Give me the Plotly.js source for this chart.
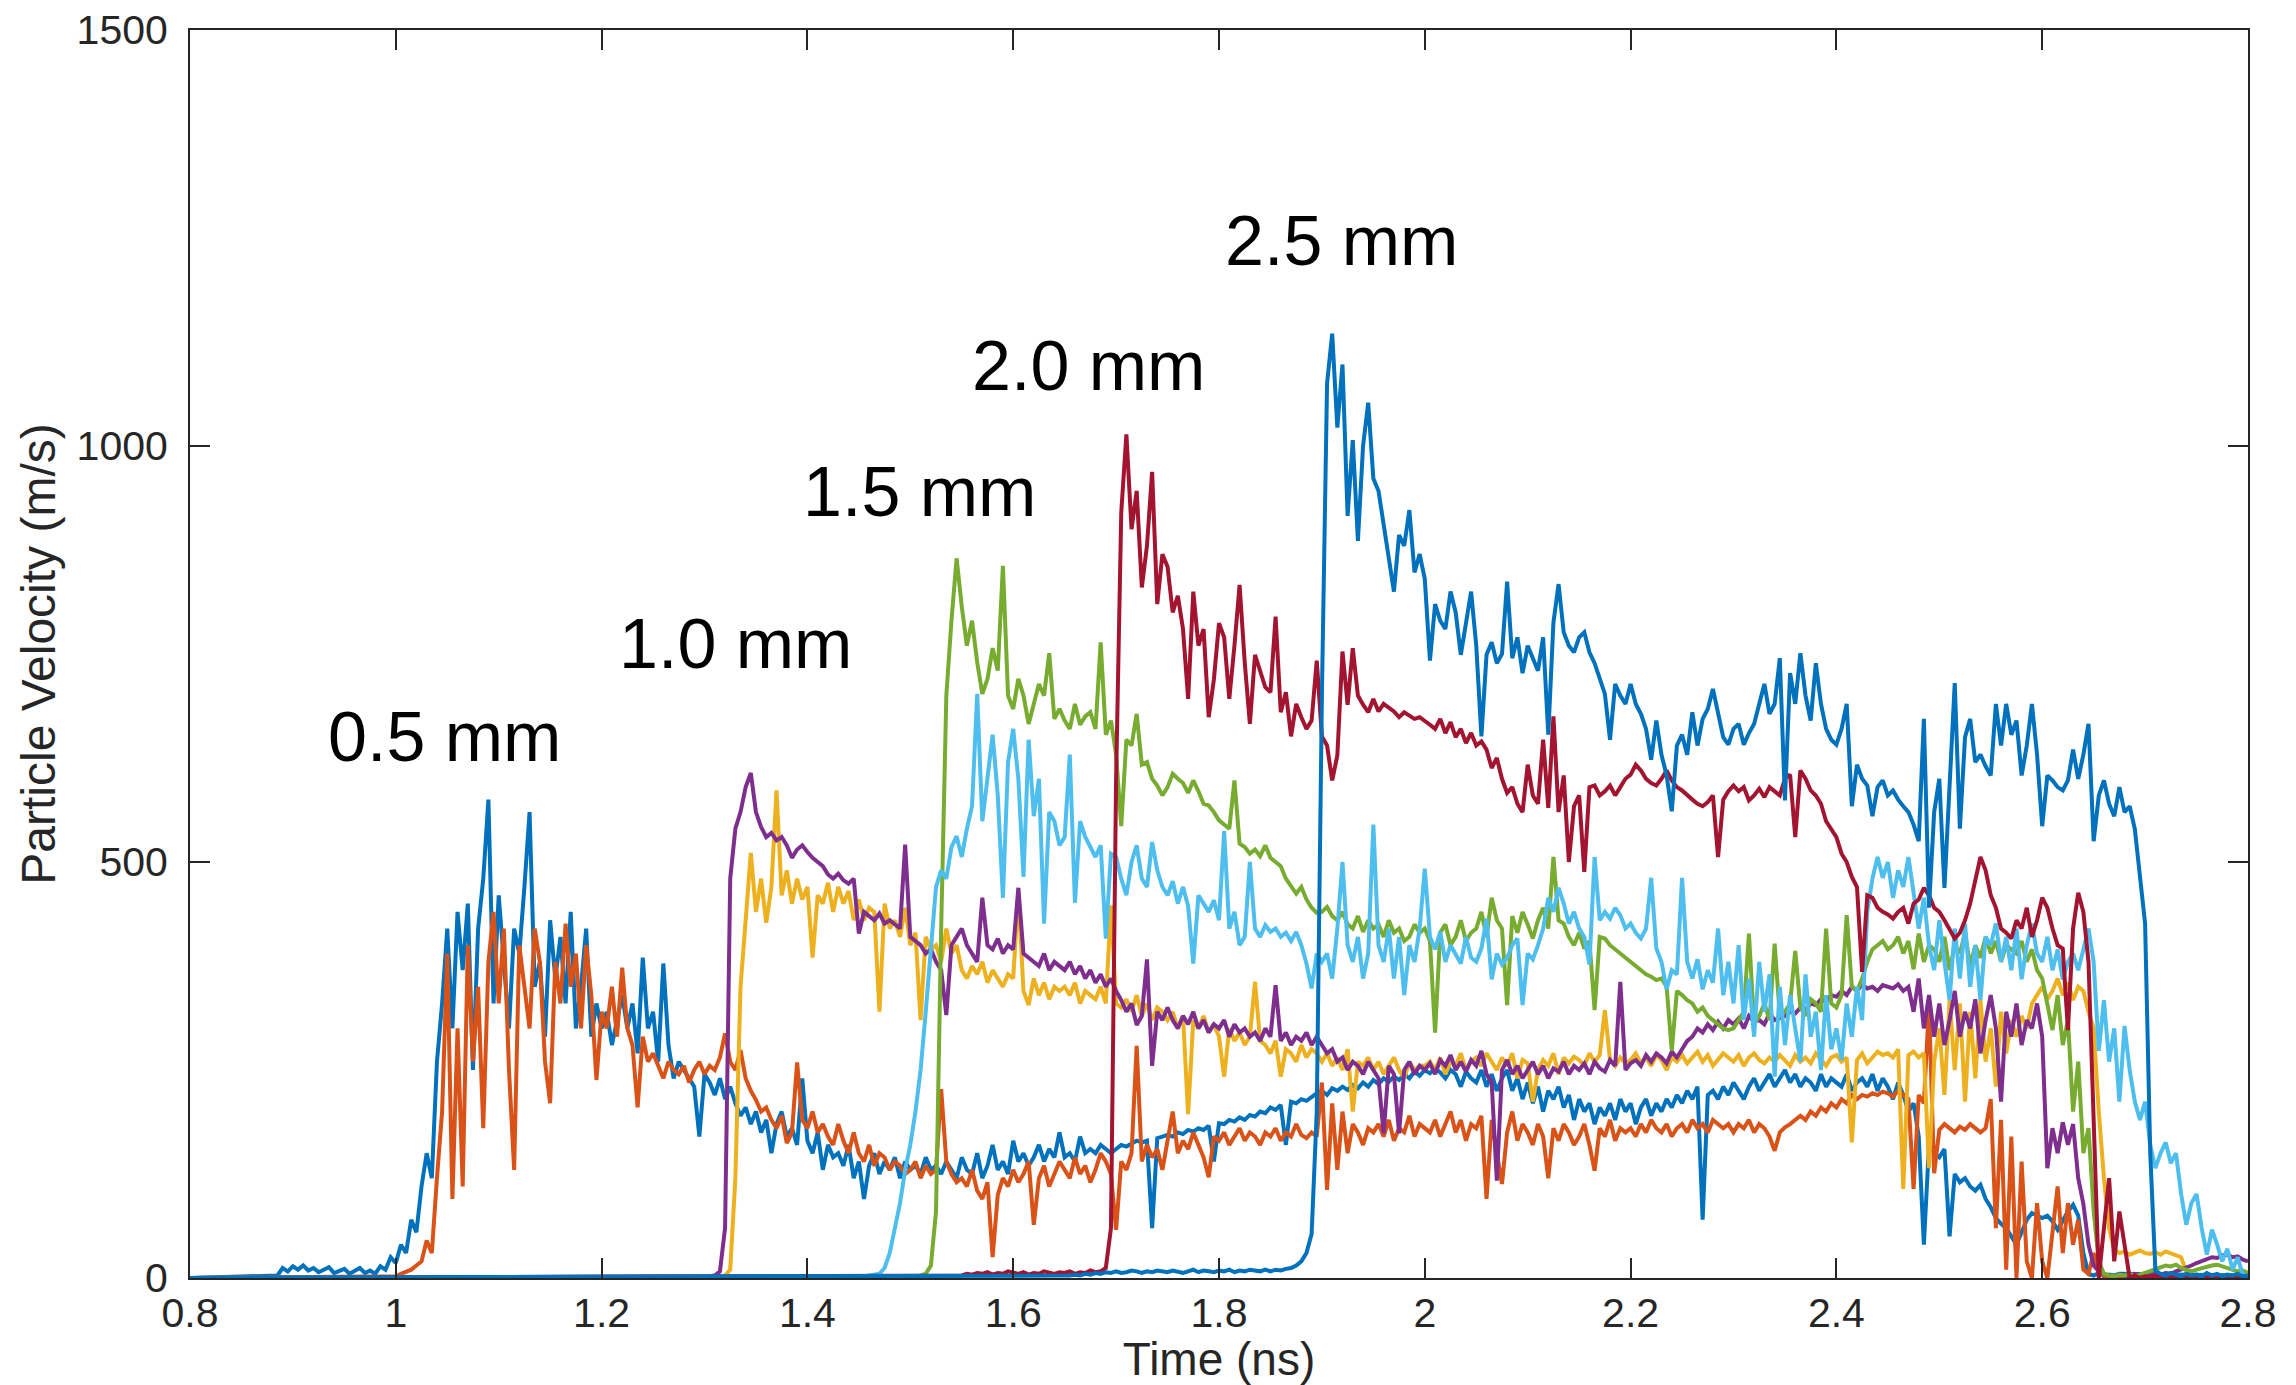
<!DOCTYPE html>
<html><head><meta charset="utf-8">
<script src="https://cdn.plot.ly/plotly-3.0.1.min.js"></script>
<style>html,body{margin:0;padding:0;background:#fff;} #chart{width:2296px;height:1385px;}</style>
</head><body><div id="chart"></div>
<script>
// sampling interval of every recorded trace (ns)
const timeStep = 0.005;
const timeStart = 0.8, timeEnd = 2.8;

// thickness labels written on the chart
const thicknessLabels = ['0.5 mm', '1.0 mm', '1.5 mm', '2.0 mm', '2.5 mm'];

// axis ticks
const xTickVals = [0.8, 1.0, 1.2, 1.4, 1.6, 1.8, 2.0, 2.2, 2.4, 2.6, 2.8];
const xTickText = ['0.8', '1', '1.2', '1.4', '1.6', '1.8', '2', '2.2', '2.4', '2.6', '2.8'];
const yTickVals = [0, 500, 1000, 1500];
const yTickText = ['0', '500', '1000', '1500'];

// ---- 0.5 mm, probe A (m/s) ----
const startA = 0.880;
const velA = [
2,3,12,8,14,10,15,9,12,7,
10,13,6,9,11,5,8,12,6,9,
5,14,10,25,18,40,30,70,55,110,
150,120,260,330,420,300,440,370,450,250,
420,480,575,330,460,380,300,420,390,470,
560,350,380,290,430,360,410,330,440,300,
350,420,290,330,300,320,280,310,340,300,
330,270,385,300,320,260,378,280,240,260,
250,240,230,170,245,235,220,240,215,230,
210,195,205,185,200,175,190,150,185,200,
170,180,160,240,165,150,175,130,160,145,
150,135,160,120,140,95,135,150,125,140,
130,145,120,140,130,135,125,145,130,135,
125,140,130,120,145,130,125,150,120,135,
160,130,140,125,165,140,150,135,145,160,
140,155,145,175,145,150,140,170,150,155,
150,160,155,150,155,160,158,162,165,163,
165,60,168,170,172,170,175,173,178,176,
180,178,183,140,186,185,190,188,193,190,
196,194,200,198,205,202,208,160,212,210,
215,213,218,222,225,220,228,225,230,226,
232,228,235,230,238,233,240,236,242,238,
245,240,248,243,250,246,252,247,240,250,
245,230,248,240,235,250,230,245,225,240,
250,225,240,215,235,210,230,200,225,215,
230,205,220,190,215,200,210,185,205,195,
210,190,215,200,210,185,205,215,195,210,
200,215,205,220,210,225,215,230,70,220,
225,215,230,220,235,225,215,230,240,225,
235,245,230,240,250,235,245,230,240,235,
225,245,230,240,235,230,245,225,235,240,
230,245,225,240,230,215,235,220,200,210,
170,40,160,150,145,155,50,125,115,120,
110,105,112,95,85,72,65,60,50,40,
55,70,78,75,72,75,68,58,70,80,
88,75,30,5,3,6,2,4,3,5];
const tailA = 3;

// ---- 0.5 mm, probe B ----
const startB = 1.000;
const velB = [
2,5,8,10,15,20,45,30,120,200,
390,95,300,110,400,260,350,180,380,440,
330,420,250,130,400,350,300,420,380,260,
210,380,330,426,350,390,300,400,340,238,
320,300,350,290,373,300,280,205,290,260,
270,255,240,260,250,245,255,235,250,260,
245,255,250,265,294,260,250,274,240,225,
214,200,205,190,180,195,162,175,259,190,
180,200,175,185,170,160,185,165,150,175,
150,140,160,135,150,145,130,140,135,125,
130,140,120,135,125,130,227,140,125,115,
120,110,130,105,95,115,25,100,120,110,
130,115,125,140,64,120,135,110,125,140,
130,120,145,125,135,115,130,150,140,125,
58,140,130,150,279,140,160,145,155,130,
165,200,150,165,155,175,160,145,121,170,
165,175,160,170,180,165,175,170,160,175,
170,180,165,175,170,185,172,168,175,170,
235,106,210,130,200,150,185,175,160,180,
175,185,170,190,165,180,175,195,170,185,
180,175,190,170,185,200,175,190,165,185,
180,195,95,190,150,113,175,200,165,185,
175,160,185,170,120,180,165,185,175,160,
170,185,160,129,180,170,190,165,180,175,
180,170,185,175,190,180,175,185,170,180,
185,175,190,180,185,175,190,185,180,185,
175,185,180,190,175,185,180,170,153,175,
181,185,190,195,190,200,195,205,200,210,
205,215,210,220,215,220,218,222,220,224,
222,218,225,220,215,107,220,210,328,126,
178,185,180,175,182,178,185,180,175,180,
215,60,190,10,170,0,140,20,0,90,
20,0,60,110,30,90,40,70,10,5,
30,5,3,0,2,1,0,2,0,1];
const tailB = 1;

// ---- 1.0 mm, probe C ----
const startC = 1.300;
const velC = [
0,1,2,1,3,10,120,350,430,511,
440,480,427,470,586,460,490,450,480,455,
470,385,460,450,475,440,470,450,465,430,
455,430,445,440,320,450,420,430,410,445,
400,415,310,410,395,400,380,420,390,400,
370,360,375,365,380,355,370,360,350,365,
360,463,345,328,360,340,355,335,350,345,
350,340,355,330,345,340,335,350,330,448,
330,325,335,320,340,315,330,310,325,320,
310,320,300,315,197,310,300,315,295,305,
290,242,300,285,295,280,290,356,285,280,
270,285,242,275,270,260,280,265,275,270,
260,270,255,265,250,275,200,260,255,265,
250,260,245,255,265,250,240,260,250,255,
255,260,250,265,245,260,255,270,250,260,
265,255,270,260,250,265,255,270,240,262,
258,212,250,262,255,270,245,265,258,266,
262,255,270,260,268,322,262,255,265,258,
262,270,258,265,255,268,262,250,265,260,
268,258,265,272,260,268,255,262,270,265,
260,268,255,265,270,262,258,265,260,268,
262,255,268,260,265,258,270,262,255,265,
268,260,265,163,262,270,258,265,272,268,
270,265,275,107,268,272,265,270,132,260,
300,220,334,250,330,212,320,240,334,260,
300,230,320,270,310,290,315,300,330,340,
350,335,345,360,340,355,334,350,345,320,
300,200,120,60,34,30,32,28,30,33,
30,29,31,28,32,30,27,25,8,3,
2,1,3,2,1,2,0,1,2,1];
const tailC = 0;

// ---- 1.0 mm, probe D ----
const startD = 1.300;
const velD = [
1,2,3,8,60,480,540,560,590,607,
560,542,530,535,526,530,520,505,515,520,
512,505,500,495,485,480,486,478,474,480,
414,440,435,430,438,426,430,425,420,521,
410,405,400,390,395,380,370,316,400,410,
420,400,390,380,457,400,395,408,390,400,
395,469,390,385,380,375,390,370,380,375,
370,380,365,375,360,370,355,365,350,360,
345,334,320,330,304,315,383,255,320,310,
325,310,300,315,305,320,300,310,295,305,
300,310,290,305,295,300,290,295,285,300,
290,352,285,295,280,290,285,295,280,290,
280,270,275,260,265,250,260,255,245,260,
250,240,174,255,245,174,250,260,245,255,
250,258,245,262,255,268,250,260,248,262,
255,273,245,235,117,250,262,245,255,240,
250,260,245,255,240,252,248,260,245,255,
250,258,245,260,252,248,262,255,356,250,
258,262,255,268,260,270,265,258,272,265,
275,285,290,300,295,305,298,308,300,310,
305,312,300,315,308,310,305,318,310,312,
315,320,318,325,322,330,328,335,332,340,
338,345,340,350,345,353,348,350,345,352,
350,348,353,345,350,320,360,300,340,290,
330,280,310,345,290,320,300,335,270,310,
340,300,212,320,290,330,280,310,300,330,
290,132,180,150,187,160,185,120,89,40,
15,8,5,3,2,4,3,2,5,3,
4,3,5,4,6,5,8,10,12,15,
18,20,22,25,24,27,28,25,26,22];
const tailD = 20;

// ---- 1.5 mm, probe E ----
const startE = 1.500;
const velE = [
1,2,3,5,15,80,420,700,790,865,
807,760,790,740,702,720,757,730,856,700,
684,720,700,666,690,714,700,751,672,684,
670,660,690,665,675,680,660,764,653,670,
629,543,647,640,678,617,620,600,592,580,
590,606,600,595,583,598,585,570,568,560,
550,545,540,598,522,518,510,515,507,520,
505,500,495,480,470,462,470,455,445,439,
440,446,435,430,440,425,420,435,416,430,
420,425,410,430,415,420,405,410,425,415,
420,405,295,415,425,400,410,430,405,415,
420,440,410,457,430,420,328,435,415,440,
425,408,430,445,420,506,430,426,410,400,
415,396,405,322,410,408,400,395,390,385,
380,375,370,365,362,358,360,350,273,345,
340,334,330,320,325,315,310,305,300,298,
300,310,320,414,305,315,330,310,402,315,
320,330,393,325,315,335,330,320,420,330,
325,340,436,350,345,360,380,395,400,405,
395,400,410,390,405,371,414,380,400,395,
380,410,370,400,390,415,375,400,385,410,
390,405,380,400,395,390,405,380,395,370,
360,330,298,340,280,310,200,260,150,180,
80,20,5,3,2,4,3,5,2,4,
6,8,10,12,15,14,16,12,10,8,
10,12,14,15,16,14,12,10,8,9];
const tailE = 6;

// ---- 1.5 mm, probe F ----
const startF = 1.450;
const velF = [
1,2,3,4,5,12,30,60,90,130,
160,200,250,320,400,470,490,480,518,531,
506,540,567,702,549,600,653,580,457,620,
660,600,482,647,555,600,426,560,549,520,
530,629,451,549,530,518,506,520,408,510,
506,480,460,500,520,480,470,524,490,470,
460,477,450,470,447,378,460,450,440,454,
430,537,420,440,400,410,500,420,410,424,
416,420,410,415,405,416,400,378,348,390,
380,390,360,420,500,400,380,410,360,390,
545,400,380,420,360,410,340,400,380,420,
492,410,395,416,380,400,390,378,410,385,
380,396,432,359,390,377,385,400,408,328,
390,383,400,420,457,440,469,450,426,440,
420,410,377,506,430,440,432,445,436,420,
426,415,408,420,481,396,380,347,370,365,
481,380,360,383,347,370,355,420,340,380,
330,400,310,360,290,380,320,365,242,350,
280,340,300,260,365,290,320,250,340,275,
300,262,330,290,350,310,440,480,506,481,
500,457,490,470,506,460,420,457,400,370,
430,380,334,420,360,426,350,400,334,410,
400,426,380,410,370,420,359,400,426,390,
380,410,370,395,359,380,390,370,395,420,
380,273,334,260,300,212,303,250,212,190,
212,160,132,150,163,138,150,101,64,90,
101,60,28,58,40,20,35,10,25,3];
const tailF = 2;

// ---- 2.0 mm, probe G ----
const startG = 1.550;
const velG = [
3,5,4,6,5,7,4,6,5,8,
6,5,7,4,6,5,8,6,5,7,
6,8,5,7,6,9,7,8,12,60,
600,920,1014,900,946,830,880,969,810,870,
855,800,820,780,696,825,760,780,674,719,
787,770,696,760,833,740,666,749,730,710,
704,795,680,704,651,690,674,660,670,742,
651,640,598,628,753,689,757,700,689,680,
696,681,690,685,681,674,680,676,672,674,
670,665,660,672,655,668,650,660,643,655,
640,645,635,613,625,600,583,590,570,560,
617,580,570,647,565,675,560,604,500,567,
580,488,590,592,580,585,592,580,590,600,
605,617,610,600,595,592,600,610,598,590,
586,580,575,570,567,572,580,506,575,585,
592,585,590,574,580,588,578,590,585,580,
600,605,530,610,600,586,580,570,549,540,
530,510,500,482,470,368,460,457,445,440,
437,432,440,445,426,450,455,469,460,445,
440,430,420,408,415,430,450,480,506,490,
460,445,420,415,408,430,420,445,410,430,
457,445,420,400,396,298,420,463,440,380,
200,0,60,120,20,80,40,0,3,0,
2,1,3,2,0,1,2,1,0,2];
const tailG = 1;

// ---- 2.5 mm, probe H ----
const startH = 1.650;
const velH = [
2,3,4,3,5,4,6,5,7,6,
8,6,7,9,8,6,8,7,9,8,
7,9,8,6,8,10,7,9,8,7,
9,8,10,7,9,8,10,9,8,10,
8,10,9,11,12,15,20,30,53,200,
700,1075,1135,1022,1098,916,1007,886,1000,1052,
961,946,908,870,825,893,880,923,848,870,
840,742,810,790,780,825,800,749,790,825,
760,651,749,764,739,750,837,745,770,727,
760,745,730,770,653,788,834,776,760,752,
770,776,752,739,720,702,647,714,700,690,
714,690,678,660,623,670,629,604,561,640,
653,629,680,640,672,684,708,678,650,641,
660,666,641,655,666,690,714,678,690,745,
574,727,690,751,700,670,739,690,660,647,
641,660,690,567,617,600,592,555,590,598,
580,586,575,567,560,545,525,672,445,560,
600,469,600,715,540,650,672,620,629,615,
604,690,640,690,653,670,604,640,690,629,
543,604,598,590,586,598,635,600,629,666,
525,580,598,570,555,590,560,567,540,488,
426,150,9,5,3,6,4,2,5,3,
4,2,6,3,5,2,4,3,5,2];
const tailH = 3;

const baselineLead = 0;

// MATLAB default colour order
const colors = ['#0072BD', '#D95319', '#EDB120', '#7E2F8E', '#77AC30', '#4DBEEE', '#A2142F', '#0072BD'];

function makeTrace(start, vals, tail, color) {
  const x = [timeStart];
  const y = [baselineLead];
  vals.forEach(function (v, i) { x.push(+(start + i * timeStep).toFixed(4)); y.push(v); });
  x.push(timeEnd); y.push(tail);
  return { type: 'scatter', mode: 'lines', x: x, y: y, line: { color: color, width: 4 }, hoverinfo: 'skip' };
}

const traces = [
  makeTrace(startA, velA, tailA, colors[0]),
  makeTrace(startB, velB, tailB, colors[1]),
  makeTrace(startC, velC, tailC, colors[2]),
  makeTrace(startD, velD, tailD, colors[3]),
  makeTrace(startE, velE, tailE, colors[4]),
  makeTrace(startF, velF, tailF, colors[5]),
  makeTrace(startG, velG, tailG, colors[6]),
  makeTrace(startH, velH, tailH, colors[7])
];

const axisColor = '#262626';
const fontFamily = '"Liberation Sans", Arial, Helvetica, sans-serif';
const labelPos = [[1.047, 650], [1.330, 762], [1.509, 945], [1.673, 1096], [1.919, 1246]];

const layout = {
  width: 2296, height: 1385,
  margin: { l: 190, r: 48, t: 30, b: 107 },
  paper_bgcolor: '#ffffff', plot_bgcolor: '#ffffff',
  showlegend: false,
  font: { family: fontFamily, color: axisColor },
  xaxis: {
    range: [timeStart, timeEnd], tickvals: xTickVals, ticktext: xTickText,
    ticks: 'inside', ticklen: 20, tickwidth: 2, tickcolor: axisColor,
    showline: true, linecolor: axisColor, linewidth: 2, mirror: 'ticks',
    showgrid: false, zeroline: false, ticklabelstandoff: -2,
    tickfont: { size: 41, color: axisColor, family: fontFamily },
    title: { text: 'Time (ns)', font: { size: 46, color: axisColor, family: fontFamily }, standoff: 10 }
  },
  yaxis: {
    range: [0, 1500], tickvals: yTickVals, ticktext: yTickText,
    ticks: 'inside', ticklen: 20, tickwidth: 2, tickcolor: axisColor,
    showline: true, linecolor: axisColor, linewidth: 2, mirror: 'ticks',
    showgrid: false, zeroline: false, ticklabelstandoff: 12,
    tickfont: { size: 41, color: axisColor, family: fontFamily },
    title: { text: 'Particle Velocity (m/s)', font: { size: 48, color: axisColor, family: fontFamily }, standoff: 6 }
  },
  annotations: thicknessLabels.map(function (t, i) {
    return { text: t, x: labelPos[i][0], y: labelPos[i][1], xref: 'x', yref: 'y',
      showarrow: false, xanchor: 'center', yanchor: 'middle',
      font: { size: 70, color: '#000000', family: fontFamily } };
  })
};

Plotly.newPlot('chart', traces, layout, { staticPlot: true, displayModeBar: false });
</script>
</body></html>
